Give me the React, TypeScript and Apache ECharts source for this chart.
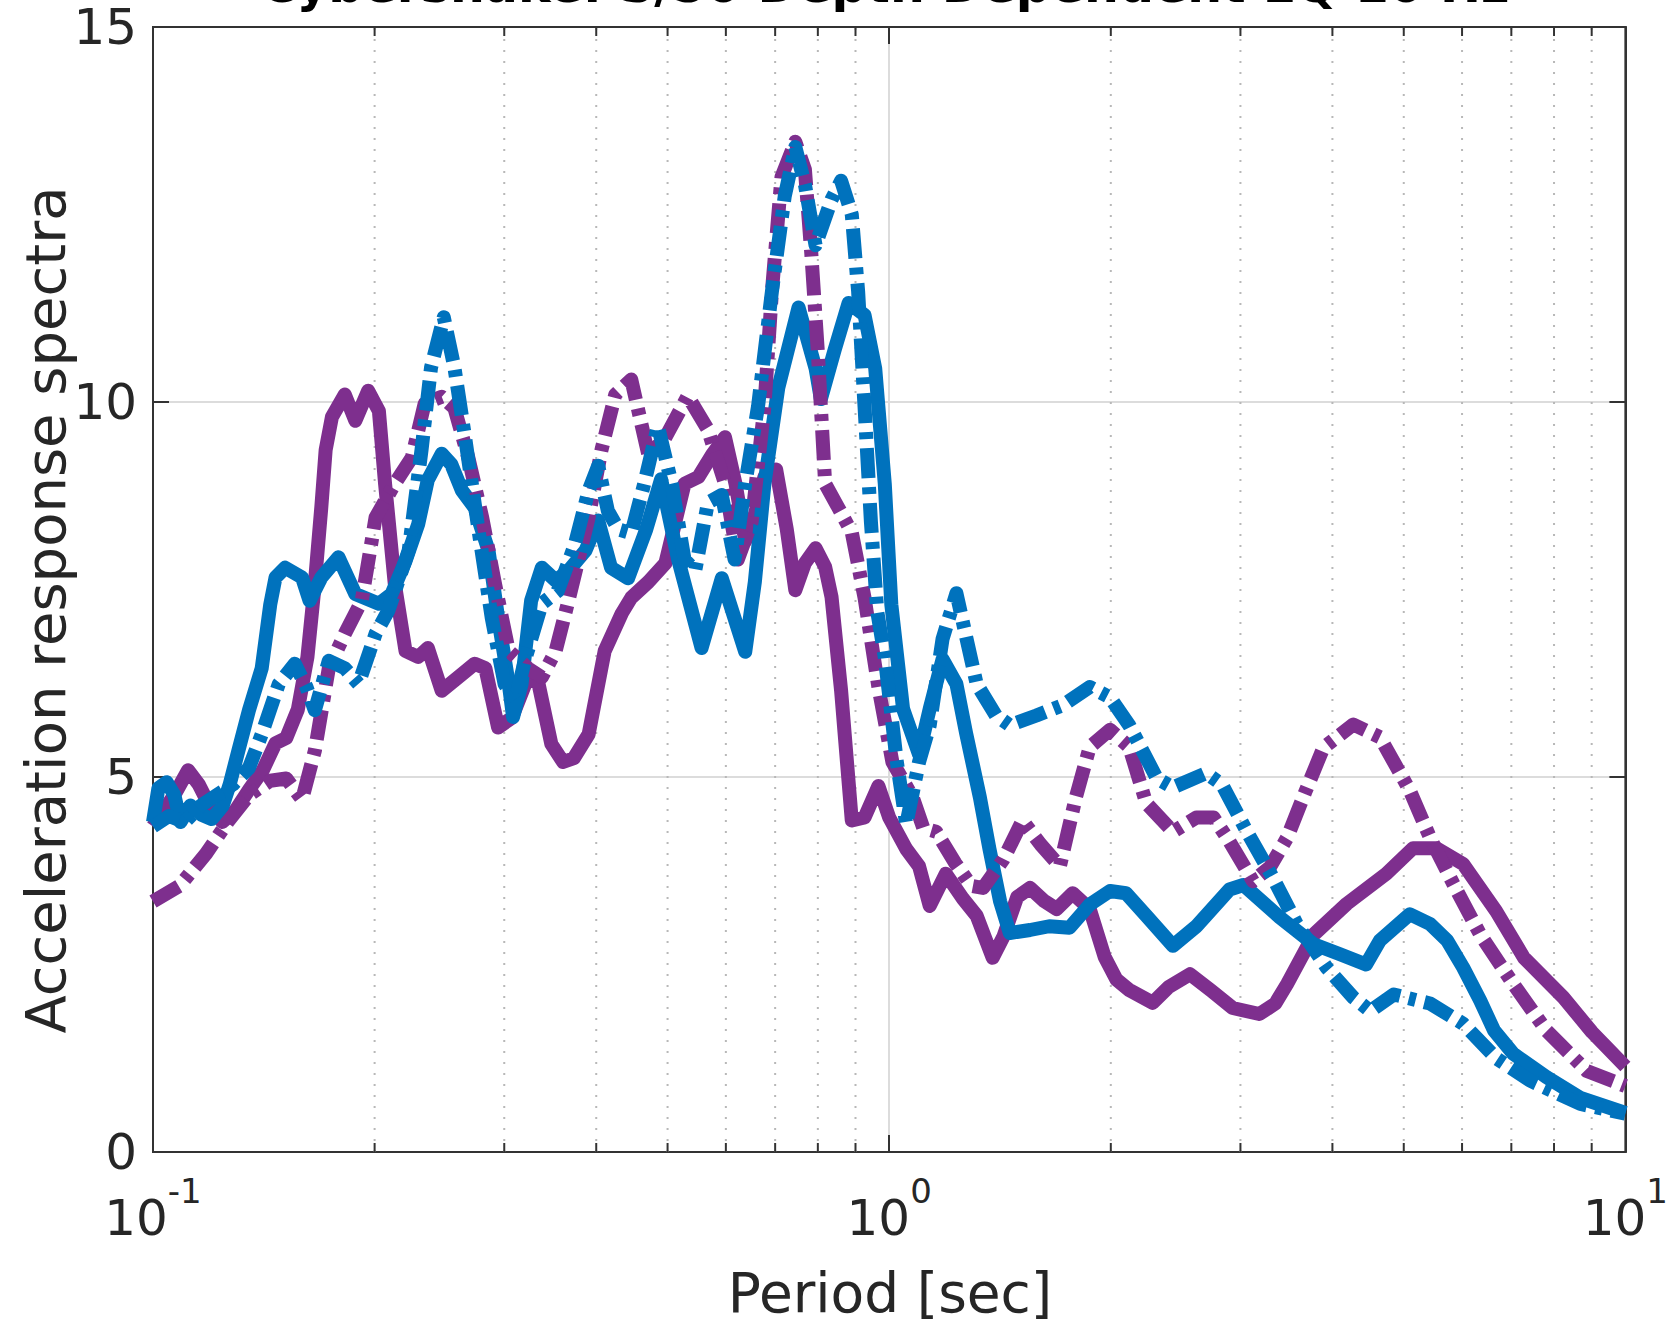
import React, { useEffect, useRef } from "react";
import * as echarts from "echarts";

const TITLE = "Cybershake: S/50 Depth Dependent EQ 10 Hz";
const X_NAME = "Period [sec]";
const Y_NAME = "Acceleration response spectra";

const yTicks = [0, 5, 10, 15];
const xMajorTicks = [0.1, 1, 10];
const xMajorExponents = ["-1", "0", "1"];
const xMinorTicks = [0.2, 0.3, 0.4, 0.5, 0.6, 0.7, 0.8, 0.9, 2, 3, 4, 5, 6, 7, 8, 9];

const purpleSolid: [number, number][] = [
  [0.1, 4.34], [0.1034, 4.55], [0.1069, 4.76], [0.1116, 5.09], [0.1154, 4.9], [0.1193, 4.62], [0.1242, 4.4],
  [0.1293, 4.55], [0.135, 4.83], [0.141, 5.09], [0.1467, 5.45], [0.1517, 5.52], [0.1573, 5.9], [0.1621, 6.6],
  [0.1659, 7.58], [0.1693, 8.6], [0.1716, 9.36], [0.175, 9.8], [0.1822, 10.1], [0.1883, 9.75], [0.196, 10.15],
  [0.2027, 9.88], [0.2067, 8.9], [0.213, 7.58], [0.2203, 6.68], [0.2292, 6.6], [0.2362, 6.72], [0.2467, 6.15],
  [0.2628, 6.37], [0.2735, 6.51], [0.2828, 6.45], [0.2943, 5.66], [0.3073, 5.79], [0.3231, 6.33], [0.334, 6.24],
  [0.3476, 5.44], [0.3606, 5.2], [0.3729, 5.25], [0.3906, 5.57], [0.4107, 6.68], [0.4332, 7.18], [0.4463, 7.39],
  [0.4708, 7.6], [0.4966, 7.85], [0.5272, 8.91], [0.5506, 9.0], [0.575, 9.3], [0.5984, 9.53], [0.6187, 8.9],
  [0.6375, 8.15], [0.6569, 8.5], [0.6769, 9.0], [0.7022, 9.1], [0.726, 8.3], [0.7456, 7.49], [0.7683, 7.85],
  [0.7943, 8.05], [0.8185, 7.8], [0.835, 7.4], [0.8604, 6.15], [0.8896, 4.42], [0.9258, 4.46], [0.9668, 4.88],
  [1.0, 4.46], [1.0548, 4.04], [1.0979, 3.81], [1.1352, 3.28], [1.1935, 3.71], [1.2589, 3.38], [1.3147, 3.15],
  [1.3822, 2.59], [1.4291, 2.87], [1.4924, 3.4], [1.5534, 3.52], [1.6222, 3.35], [1.6885, 3.24], [1.7752, 3.45],
  [1.8726, 3.24], [1.9621, 2.6], [2.0355, 2.3], [2.1185, 2.16], [2.28, 1.99], [2.397, 2.2], [2.5624, 2.37],
  [2.7393, 2.15], [2.9283, 1.92], [3.183, 1.84], [3.3464, 1.98], [3.4716, 2.24], [3.7734, 2.9], [4.1847, 3.31],
  [4.7346, 3.71], [5.1464, 4.05], [5.5387, 4.05], [6.0203, 3.84], [6.6764, 3.21], [7.2815, 2.59], [8.2383, 2.06],
  [9.0058, 1.6], [10, 1.14],
];

const blueSolid: [number, number][] = [
  [0.1, 4.4], [0.1017, 4.85], [0.1044, 4.93], [0.1069, 4.76], [0.109, 4.4], [0.1124, 4.62], [0.1162, 4.5],
  [0.1201, 4.44], [0.1242, 4.6], [0.1271, 4.9], [0.1306, 5.35], [0.135, 5.89], [0.1405, 6.45], [0.1443, 7.3],
  [0.1467, 7.66], [0.1512, 7.79], [0.1594, 7.66], [0.1632, 7.35], [0.1693, 7.66], [0.1786, 7.93], [0.1883, 7.44],
  [0.2027, 7.31], [0.2109, 7.44], [0.2203, 7.88], [0.2292, 8.37], [0.2362, 8.96], [0.2467, 9.31], [0.2542, 9.17],
  [0.2628, 8.82], [0.2735, 8.59], [0.2856, 8.02], [0.2943, 7.12], [0.3043, 6.24], [0.3084, 5.8], [0.3167, 6.24],
  [0.3263, 7.35], [0.3374, 7.79], [0.3523, 7.62], [0.3667, 7.75], [0.3868, 8.02], [0.4025, 8.42], [0.419, 7.79],
  [0.4419, 7.65], [0.4677, 8.3], [0.49, 8.97], [0.5168, 7.9], [0.5561, 6.72], [0.5924, 7.65], [0.6375, 6.67],
  [0.6569, 7.6], [0.6769, 8.91], [0.7069, 10.19], [0.7531, 11.26], [0.7943, 10.45], [0.8076, 10.04], [0.8434, 10.7],
  [0.8808, 11.32], [0.9258, 11.16], [0.9572, 10.45], [0.9863, 8.91], [1.0067, 7.3], [1.0443, 5.91], [1.0979, 5.3],
  [1.1352, 5.91], [1.1816, 6.57], [1.234, 6.24], [1.2716, 5.59], [1.3279, 4.73], [1.3684, 4.04], [1.4148, 3.34],
  [1.4581, 2.92], [1.5534, 2.96], [1.6496, 3.01], [1.7575, 2.99], [1.8726, 3.3], [1.9951, 3.48], [2.0975, 3.45],
  [2.2347, 3.15], [2.4291, 2.75], [2.6142, 3.01], [2.8991, 3.5], [3.0276, 3.56], [3.3914, 3.13], [3.7734, 2.77],
  [4.0881, 2.64], [4.4437, 2.5], [4.6407, 2.82], [5.0952, 3.17], [5.4287, 3.04], [5.7266, 2.82], [6.0203, 2.46],
  [6.3502, 2.02], [6.632, 1.62], [7.0424, 1.31], [7.8101, 1.0], [8.6901, 0.72], [10, 0.52],
];

const purpleDash: [number, number][] = [
  [0.1, 3.34], [0.1087, 3.55], [0.1181, 3.98], [0.1263, 4.4], [0.135, 4.76], [0.1443, 4.95], [0.1517, 4.98],
  [0.1594, 4.7], [0.1659, 5.35], [0.1733, 6.45], [0.1822, 6.91], [0.1921, 7.35], [0.2006, 8.46], [0.213, 8.91],
  [0.2247, 9.26], [0.2339, 9.98], [0.2467, 10.07], [0.2567, 9.92], [0.2681, 9.26], [0.28, 8.46], [0.2914, 7.58],
  [0.3043, 6.68], [0.3231, 6.45], [0.3374, 6.33], [0.3523, 6.68], [0.3667, 7.35], [0.3906, 8.46], [0.4066, 9.36],
  [0.4246, 10.1], [0.4463, 10.3], [0.4708, 9.3], [0.4949, 9.5], [0.5325, 10.08], [0.5673, 9.63], [0.5984, 8.91],
  [0.6228, 7.9], [0.6504, 8.4], [0.6769, 9.94], [0.6929, 11.47], [0.714, 13.0], [0.7456, 13.47], [0.7683, 13.1],
  [0.7838, 11.98], [0.7996, 10.7], [0.8185, 8.91], [0.8519, 8.6], [0.8896, 8.26], [0.9258, 7.39], [0.9668, 6.2],
  [1.0101, 5.2], [1.0762, 4.73], [1.1127, 4.32], [1.1581, 4.27], [1.2299, 3.85], [1.293, 3.55], [1.3413, 3.52],
  [1.4291, 3.9], [1.5175, 4.42], [1.6061, 4.1], [1.7055, 3.81], [1.793, 4.73], [1.8726, 5.4], [1.9951, 5.63],
  [2.1185, 5.4], [2.2347, 4.65], [2.4291, 4.27], [2.6142, 4.46], [2.7575, 4.46], [2.8991, 4.14], [3.1199, 3.61],
  [3.291, 3.8], [3.4716, 4.19], [3.6741, 4.8], [3.8885, 5.39], [4.2693, 5.7], [4.6407, 5.53], [5.0952, 4.82],
  [5.4287, 4.19], [5.8422, 3.57], [6.3502, 2.9], [7.0424, 2.24], [7.8101, 1.62], [8.8656, 1.08], [10, 0.88],
];

const blueDash: [number, number][] = [
  [0.1, 4.34], [0.1051, 4.48], [0.1105, 4.4], [0.1162, 4.62], [0.1221, 4.76], [0.1284, 4.9], [0.135, 5.12],
  [0.1405, 5.57], [0.1482, 6.24], [0.1558, 6.51], [0.1616, 6.2], [0.1659, 5.89], [0.1733, 6.55], [0.1822, 6.45],
  [0.1902, 6.24], [0.2006, 6.91], [0.2088, 7.22], [0.2225, 8.02], [0.2316, 9.36], [0.2386, 10.46], [0.2483, 11.13],
  [0.2567, 10.46], [0.2654, 9.53], [0.2772, 8.25], [0.2885, 7.12], [0.3003, 6.24], [0.3104, 6.02], [0.3199, 6.55],
  [0.3374, 7.31], [0.3547, 7.48], [0.3741, 8.1], [0.3906, 8.82], [0.4025, 9.15], [0.4148, 8.55], [0.4288, 8.3],
  [0.4463, 8.25], [0.4645, 8.9], [0.4851, 9.68], [0.5066, 8.91], [0.5272, 7.9], [0.5451, 7.75], [0.5673, 8.66],
  [0.5924, 8.76], [0.6166, 7.9], [0.6375, 8.91], [0.6635, 9.94], [0.6929, 11.47], [0.7212, 12.74], [0.7456, 13.4],
  [0.7683, 12.9], [0.7943, 12.09], [0.835, 12.7], [0.8604, 12.95], [0.8896, 12.5], [0.9075, 11.47], [0.9258, 9.94],
  [0.9445, 8.4], [0.9636, 7.2], [0.9863, 6.6], [1.0236, 5.22], [1.0548, 4.37], [1.0979, 5.2], [1.1352, 5.69],
  [1.1816, 6.84], [1.234, 7.45], [1.3147, 6.24], [1.3961, 5.82], [1.4581, 5.69], [1.5848, 5.82], [1.7227, 5.96],
  [1.8726, 6.2], [1.9951, 6.06], [2.1185, 5.69], [2.3106, 4.98], [2.4291, 4.86], [2.6939, 5.05], [2.8321, 4.9],
  [3.058, 4.28], [3.3241, 3.65], [3.5773, 3.04], [3.9276, 2.46], [4.2693, 2.06], [4.5034, 1.88], [4.8467, 2.1],
  [5.4287, 1.98], [6.0203, 1.71], [6.6764, 1.25], [7.4287, 0.95], [8.6901, 0.64], [10, 0.51],
];

const FONT = "DejaVu Sans";
const TXT = "#262626";
const AX = "#333333";
const GRID = "#dcdcdc";
const PURPLE = "#7E2F8E";
const BLUE = "#0072BD";
const DASH = [30, 9, 7, 9];

function lineSeries(name: string, data: [number, number][], color: string, dashed: boolean) {
  return {
    name,
    type: "line",
    data,
    xAxisIndex: 0,
    yAxisIndex: 0,
    showSymbol: false,
    symbol: "none",
    silent: true,
    z: 4,
    lineStyle: { color, width: 14, type: dashed ? DASH : "solid", cap: "butt", join: "round" },
  };
}

export default function App() {
  const ref = useRef<HTMLDivElement>(null);
  useEffect(() => {
    if (!ref.current) return;
    const chart = echarts.init(ref.current, undefined, { renderer: "svg" });
    const majorIdx = (v: number) => xMajorTicks.findIndex((t) => Math.abs(t - v) / t < 1e-6);
    const option: any = {
      animation: false,
      backgroundColor: "#ffffff",
      grid: { left: 153, right: 43, top: 27, bottom: 175, show: true, borderColor: AX, borderWidth: 2, backgroundColor: "transparent" },
      xAxis: [
        {
          type: "log", logBase: 10, min: 0.1, max: 10, position: "bottom",
          axisLine: { show: true, onZero: false, lineStyle: { color: AX, width: 2 } },
          axisTick: { show: true, inside: true, length: 17, lineStyle: { color: AX, width: 2 } },
          splitLine: { show: true, lineStyle: { color: GRID, width: 2 } },
          axisLabel: {
            show: true, margin: 22, showMinLabel: true, showMaxLabel: true, hideOverlap: false,
            formatter: (v: number) => {
              const i = majorIdx(v);
              return i < 0 ? "" : `{b|10}{s|${xMajorExponents[i]}}`;
            },
            rich: {
              b: { fontSize: 50, fontFamily: FONT, color: TXT, lineHeight: 87 },
              s: { fontSize: 34, fontFamily: FONT, color: TXT, verticalAlign: "top" },
            },
          },
        },
        {
          type: "log", logBase: 10, min: 0.1, max: 10, position: "top",
          axisLine: { show: true, onZero: false, lineStyle: { color: AX, width: 2 } },
          axisTick: { show: true, inside: true, length: 17, lineStyle: { color: AX, width: 2 } },
          splitLine: { show: false },
          axisLabel: { show: false },
        },
      ],
      yAxis: [
        {
          type: "value", min: yTicks[0], max: yTicks[yTicks.length - 1], interval: 5, position: "left",
          axisLine: { show: true, onZero: false, lineStyle: { color: AX, width: 2 } },
          axisTick: { show: true, inside: true, length: 16, lineStyle: { color: AX, width: 2 } },
          splitLine: { show: true, lineStyle: { color: GRID, width: 2 } },
          axisLabel: { show: true, margin: 16, fontSize: 50, lineHeight: 40, fontFamily: FONT, color: TXT, showMinLabel: true, showMaxLabel: true },
        },
        {
          type: "value", min: yTicks[0], max: yTicks[yTicks.length - 1], interval: 5, position: "right",
          axisLine: { show: true, onZero: false, lineStyle: { color: AX, width: 2 } },
          axisTick: { show: true, inside: true, length: 16, lineStyle: { color: AX, width: 2 } },
          splitLine: { show: false },
          axisLabel: { show: false },
        },
      ],
      series: [
        {
          type: "custom", name: "minorGrid", coordinateSystem: "cartesian2d", xAxisIndex: 0, yAxisIndex: 0,
          silent: true, z: 1, data: xMinorTicks.map((v) => [v, 0]),
          renderItem: (_p: any, api: any) => {
            const v = api.value(0);
            const b = api.coord([v, yTicks[0]]);
            const t = api.coord([v, yTicks[yTicks.length - 1]]);
            return {
              type: "line",
              shape: { x1: b[0], y1: b[1], x2: t[0], y2: t[1] },
              style: { stroke: "#b8b8b8", lineWidth: 2, lineDash: [2, 9] },
            };
          },
        },
        lineSeries("EQ1 solid", purpleSolid, PURPLE, false),
        lineSeries("EQ2 solid", blueSolid, BLUE, false),
        lineSeries("EQ1 dash-dot", purpleDash, PURPLE, true),
        lineSeries("EQ2 dash-dot", blueDash, BLUE, true),
        {
          type: "custom", name: "minorTicks", coordinateSystem: "cartesian2d", xAxisIndex: 0, yAxisIndex: 0,
          silent: true, z: 6, data: xMinorTicks.map((v) => [v, 0]),
          renderItem: (_p: any, api: any) => {
            const v = api.value(0);
            const b = api.coord([v, yTicks[0]]);
            const t = api.coord([v, yTicks[yTicks.length - 1]]);
            return {
              type: "group",
              children: [
                { type: "line", shape: { x1: b[0], y1: b[1], x2: b[0], y2: b[1] - 9 }, style: { stroke: AX, lineWidth: 2 } },
                { type: "line", shape: { x1: t[0], y1: t[1], x2: t[0], y2: t[1] + 9 }, style: { stroke: AX, lineWidth: 2 } },
              ],
            };
          },
        },
      ],
      graphic: [
        {
          type: "text", x: 885, y: 10, silent: true,
          style: { text: TITLE, fontSize: 49, fontWeight: "bold", fontFamily: FONT, fill: "#000000", textAlign: "center", textVerticalAlign: "bottom", verticalAlign: "bottom" },
        },
        {
          type: "text", x: 890, y: 1293, silent: true,
          style: { text: X_NAME, fontSize: 55, fontFamily: FONT, fill: TXT, textAlign: "center", textVerticalAlign: "middle", verticalAlign: "middle" },
        },
        {
          type: "text", x: 45, y: 610, rotation: Math.PI / 2, silent: true,
          style: { text: Y_NAME, fontSize: 56, fontFamily: FONT, fill: TXT, textAlign: "center", textVerticalAlign: "middle", verticalAlign: "middle" },
        },
      ],
    };
    chart.setOption(option);
    return () => chart.dispose();
  }, []);
  return (
    <div
      ref={ref}
      style={{ position: "fixed", left: 0, top: 0, width: 1671, height: 1327, background: "#ffffff" }}
    />
  );
}
